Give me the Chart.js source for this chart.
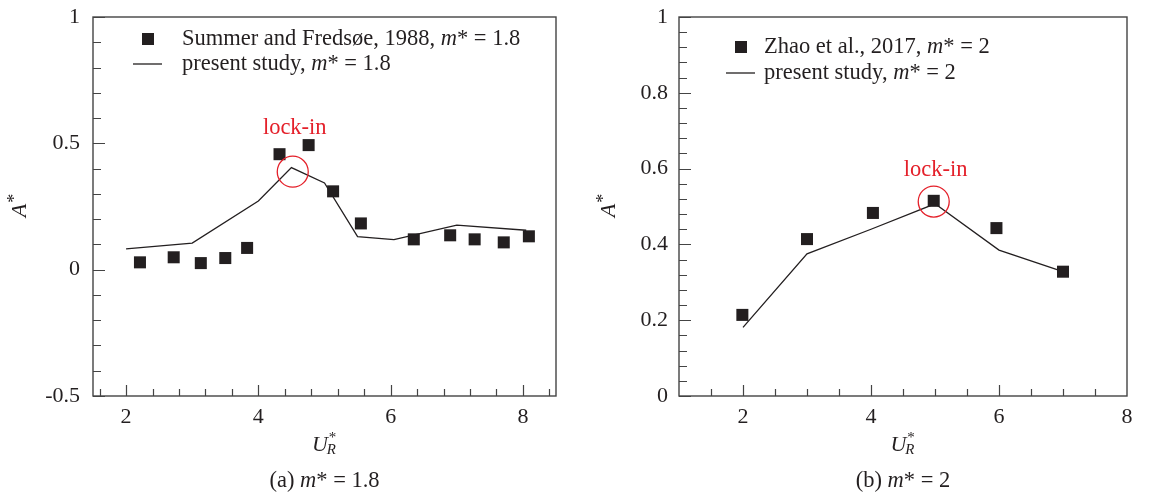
<!DOCTYPE html>
<html>
<head>
<meta charset="utf-8">
<script src="https://cdn.jsdelivr.net/npm/chart.js@4.4.1/dist/chart.umd.min.js"></script>
<style>
  body { margin: 0; background: #fff; overflow: hidden; }
  .panel { position: absolute; top: 0; }
</style>
</head>
<body>
<div class="panel" style="left:0"><canvas id="chartA" width="575" height="498"></canvas></div>
<div class="panel" style="left:575px"><canvas id="chartB" width="576" height="498"></canvas></div>
<script>
// ---- panel (a): m* = 1.8 ----
const aRefLabel = 'Summer and Fredsøe, 1988, m* = 1.8';
const aRefX = [2.21, 2.72, 3.13, 3.50, 3.83, 4.32, 4.76, 5.13, 5.55, 6.35, 6.90, 7.27, 7.71, 8.09];
const aRefY = [0.029, 0.049, 0.026, 0.046, 0.086, 0.457, 0.493, 0.310, 0.183, 0.120, 0.136, 0.120, 0.108, 0.132];
const aSimLabel = 'present study, m* = 1.8';
const aSimX = [2.0, 3.0, 4.0, 4.5, 5.0, 5.5, 6.05, 7.0, 8.05];
const aSimY = [0.082, 0.105, 0.272, 0.404, 0.343, 0.131, 0.119, 0.176, 0.156];
const aXTicks = [2, 4, 6, 8];
const aYTicks = [-0.5, 0, 0.5, 1];
const aYTickLabels = ['-0.5', '0', '0.5', '1'];
const aLock = [4.52, 0.388];
const aCaption = '(a) m* = 1.8';

// ---- panel (b): m* = 2 ----
const bRefLabel = 'Zhao et al., 2017, m* = 2';
const bRefX = [1.99, 3.0, 4.03, 4.98, 5.96, 7.0];
const bRefY = [0.214, 0.414, 0.483, 0.515, 0.443, 0.328];
const bSimLabel = 'present study, m* = 2';
const bSimX = [2, 3, 4, 5, 6, 7];
const bSimY = [0.181, 0.375, 0.44, 0.507, 0.385, 0.328];
const bXTicks = [2, 4, 6, 8];
const bYTicks = [0, 0.2, 0.4, 0.6, 0.8, 1];
const bYTickLabels = ['0', '0.2', '0.4', '0.6', '0.8', '1'];
const bLock = [4.98, 0.513];
const bCaption = '(b) m* = 2';

const FONT = '"Liberation Serif", "Times New Roman", serif';
const INK = '#231f20';
const AXIS = '#444';
const RED = '#e4202a';

const pts = (xs, ys) => xs.map((x, i) => ({ x: x, y: ys[i] }));
function steps(from, to, step) {
  const out = [];
  for (let v = from; v <= to + 1e-9; v += step) out.push(Math.round(v * 1000) / 1000);
  return out;
}

// text with the "m" of "m*" in italics
function richParts(s) {
  const i = s.indexOf('m*');
  if (i < 0) return [[s, false]];
  return [[s.slice(0, i), false], ['m', true], [s.slice(i + 1), false]];
}
function drawRich(ctx, s, x, y, size, align) {
  const parts = richParts(s);
  let w = 0;
  parts.forEach(p => { ctx.font = (p[1] ? 'italic ' : '') + size + 'px ' + FONT; w += ctx.measureText(p[0]).width; });
  let cx = align === 'center' ? x - w / 2 : x;
  ctx.textAlign = 'left';
  parts.forEach(p => {
    ctx.font = (p[1] ? 'italic ' : '') + size + 'px ' + FONT;
    ctx.fillText(p[0], cx, y);
    cx += ctx.measureText(p[0]).width;
  });
}

const deco = {
  id: 'deco',
  afterDraw(chart, args, o) {
    const { ctx, chartArea: a, scales: { x, y } } = chart;
    ctx.save();
    // frame
    ctx.strokeStyle = AXIS;
    ctx.lineWidth = 1.4;
    ctx.strokeRect(a.left, a.top, a.right - a.left, a.bottom - a.top);
    // inward tick marks
    ctx.lineWidth = 1.2;
    ctx.beginPath();
    o.xMinor.forEach(v => {
      const px = Math.round(x.getPixelForValue(v)) + 0.5;
      const len = o.xMajor.includes(v) ? 11 : 7;
      ctx.moveTo(px, a.bottom); ctx.lineTo(px, a.bottom - len);
    });
    o.yMinor.forEach(v => {
      const py = Math.round(y.getPixelForValue(v)) + 0.5;
      const len = o.yMajor.includes(v) ? 12 : 8;
      ctx.moveTo(a.left, py); ctx.lineTo(a.left + len, py);
    });
    ctx.stroke();

    // legend
    ctx.fillStyle = INK;
    ctx.textBaseline = 'middle';
    const lx = a.left + o.legend[0], ly = a.top + o.legend[1];
    ctx.fillRect(lx - 6, ly - 6, 12, 12);
    ctx.strokeStyle = INK;
    ctx.lineWidth = 1.3;
    ctx.beginPath();
    ctx.moveTo(lx - 15, ly + o.legend[3]); ctx.lineTo(lx + 14, ly + o.legend[3]);
    ctx.stroke();
    drawRich(ctx, chart.data.datasets[0].label, a.left + o.legend[2], ly, 22.5, 'left');
    drawRich(ctx, chart.data.datasets[1].label, a.left + o.legend[2], ly + o.legend[3], 22.5, 'left');

    // lock-in marker
    const cx = x.getPixelForValue(o.lock[0]), cy = y.getPixelForValue(o.lock[1]);
    ctx.strokeStyle = RED;
    ctx.lineWidth = 1.3;
    ctx.beginPath();
    ctx.arc(cx, cy, 15.5, 0, Math.PI * 2);
    ctx.stroke();
    ctx.fillStyle = RED;
    ctx.font = '22.5px ' + FONT;
    ctx.textAlign = 'center';
    ctx.textBaseline = 'alphabetic';
    ctx.fillText('lock-in', cx + o.lockText[0], cy - o.lockText[1]);

    // axis titles
    const mx = (a.left + a.right) / 2, my = (a.top + a.bottom) / 2;
    ctx.fillStyle = INK;
    ctx.textAlign = 'left';
    ctx.font = 'italic 22px ' + FONT;
    const uw = ctx.measureText('U').width;
    ctx.font = 'italic 15px ' + FONT;
    const rw = ctx.measureText('R').width;
    const ux = mx - (uw + rw) / 2, ub = a.bottom + 55;
    ctx.font = 'italic 22px ' + FONT;
    ctx.fillText('U', ux, ub);
    ctx.font = 'italic 15px ' + FONT;
    ctx.fillText('R', ux + uw - 1, ub + 3);
    ctx.font = '15px ' + FONT;
    ctx.fillText('*', ux + uw + 1, ub - 9);

    ctx.save();
    ctx.translate(o.yTitleX, my);
    ctx.rotate(-Math.PI / 2);
    ctx.font = 'italic 22px ' + FONT;
    const aw = ctx.measureText('A').width;
    ctx.textBaseline = 'middle';
    ctx.fillText('A', -aw / 2 - 4, 0);
    ctx.font = '18px ' + FONT;
    ctx.fillText('*', aw / 2 - 3, -5);
    ctx.restore();

    // caption
    ctx.textBaseline = 'alphabetic';
    drawRich(ctx, o.caption, mx, a.bottom + 91, 22.5, 'center');
    ctx.restore();
  }
};

function makeChart(id, cfg) {
  return new Chart(document.getElementById(id), {
    type: 'scatter',
    data: {
      datasets: [
        {
          label: cfg.refLabel,
          data: pts(cfg.refX, cfg.refY),
          pointStyle: 'rect',
          pointRadius: 8.5,
          pointHoverRadius: 8.5,
          backgroundColor: INK,
          borderColor: INK,
          borderWidth: 0
        },
        {
          label: cfg.simLabel,
          data: pts(cfg.simX, cfg.simY),
          showLine: true,
          pointRadius: 0,
          borderColor: INK,
          borderWidth: 1.3,
          tension: 0
        }
      ]
    },
    options: {
      responsive: false,
      animation: false,
      devicePixelRatio: 1,
      layout: { padding: { left: 0, top: 17, right: cfg.padRight, bottom: 0 } },
      plugins: {
        legend: { display: false },
        tooltip: { enabled: false },
        deco: cfg.deco
      },
      scales: {
        x: {
          type: 'linear',
          min: cfg.xMin,
          max: cfg.xMax,
          afterBuildTicks: s => { s.ticks = cfg.xTicks.map(v => ({ value: v })); },
          afterFit: s => { s.height = 102; s.paddingLeft = 0; s.paddingRight = 0; },
          grid: { display: false, drawTicks: false },
          border: { display: false },
          ticks: {
            autoSkip: false, maxRotation: 0, padding: 8, color: INK,
            font: { family: FONT, size: 22 },
            callback: v => String(v)
          }
        },
        y: {
          type: 'linear',
          min: cfg.yMin,
          max: cfg.yMax,
          afterBuildTicks: s => { s.ticks = cfg.yTicks.map(v => ({ value: v })); },
          afterFit: s => { s.width = cfg.yWidth; s.paddingTop = 0; s.paddingBottom = 0; },
          grid: { display: false, drawTicks: false },
          border: { display: false },
          ticks: {
            autoSkip: false, padding: cfg.yPad, color: INK,
            font: { family: FONT, size: 22 },
            callback: v => cfg.yTickLabels[cfg.yTicks.indexOf(v)]
          }
        }
      }
    },
    plugins: [deco]
  });
}

makeChart('chartA', {
  refLabel: aRefLabel, refX: aRefX, refY: aRefY,
  simLabel: aSimLabel, simX: aSimX, simY: aSimY,
  xMin: 1.5, xMax: 8.5, yMin: -0.5, yMax: 1,
  xTicks: aXTicks, yTicks: aYTicks, yTickLabels: aYTickLabels,
  yWidth: 93, yPad: 13, padRight: 19,
  deco: {
    xMinor: steps(1.6, 8.4, 0.4), xMajor: aXTicks,
    yMinor: steps(-0.5, 1, 0.1), yMajor: aYTicks,
    legend: [55, 22, 89, 25],
    lock: aLock, lockText: [2, 38],
    yTitleX: 20,
    caption: aCaption
  }
});

makeChart('chartB', {
  refLabel: bRefLabel, refX: bRefX, refY: bRefY,
  simLabel: bSimLabel, simX: bSimX, simY: bSimY,
  xMin: 1, xMax: 8, yMin: 0, yMax: 1,
  xTicks: bXTicks, yTicks: bYTicks, yTickLabels: bYTickLabels,
  yWidth: 104, yPad: 11, padRight: 24,
  deco: {
    xMinor: steps(1.5, 7.5, 0.5), xMajor: bXTicks,
    yMinor: steps(0, 1, 0.04), yMajor: bYTicks,
    legend: [62, 30, 85, 26],
    lock: bLock, lockText: [2, 26],
    yTitleX: 34,
    caption: bCaption
  }
});
</script>
</body>
</html>
